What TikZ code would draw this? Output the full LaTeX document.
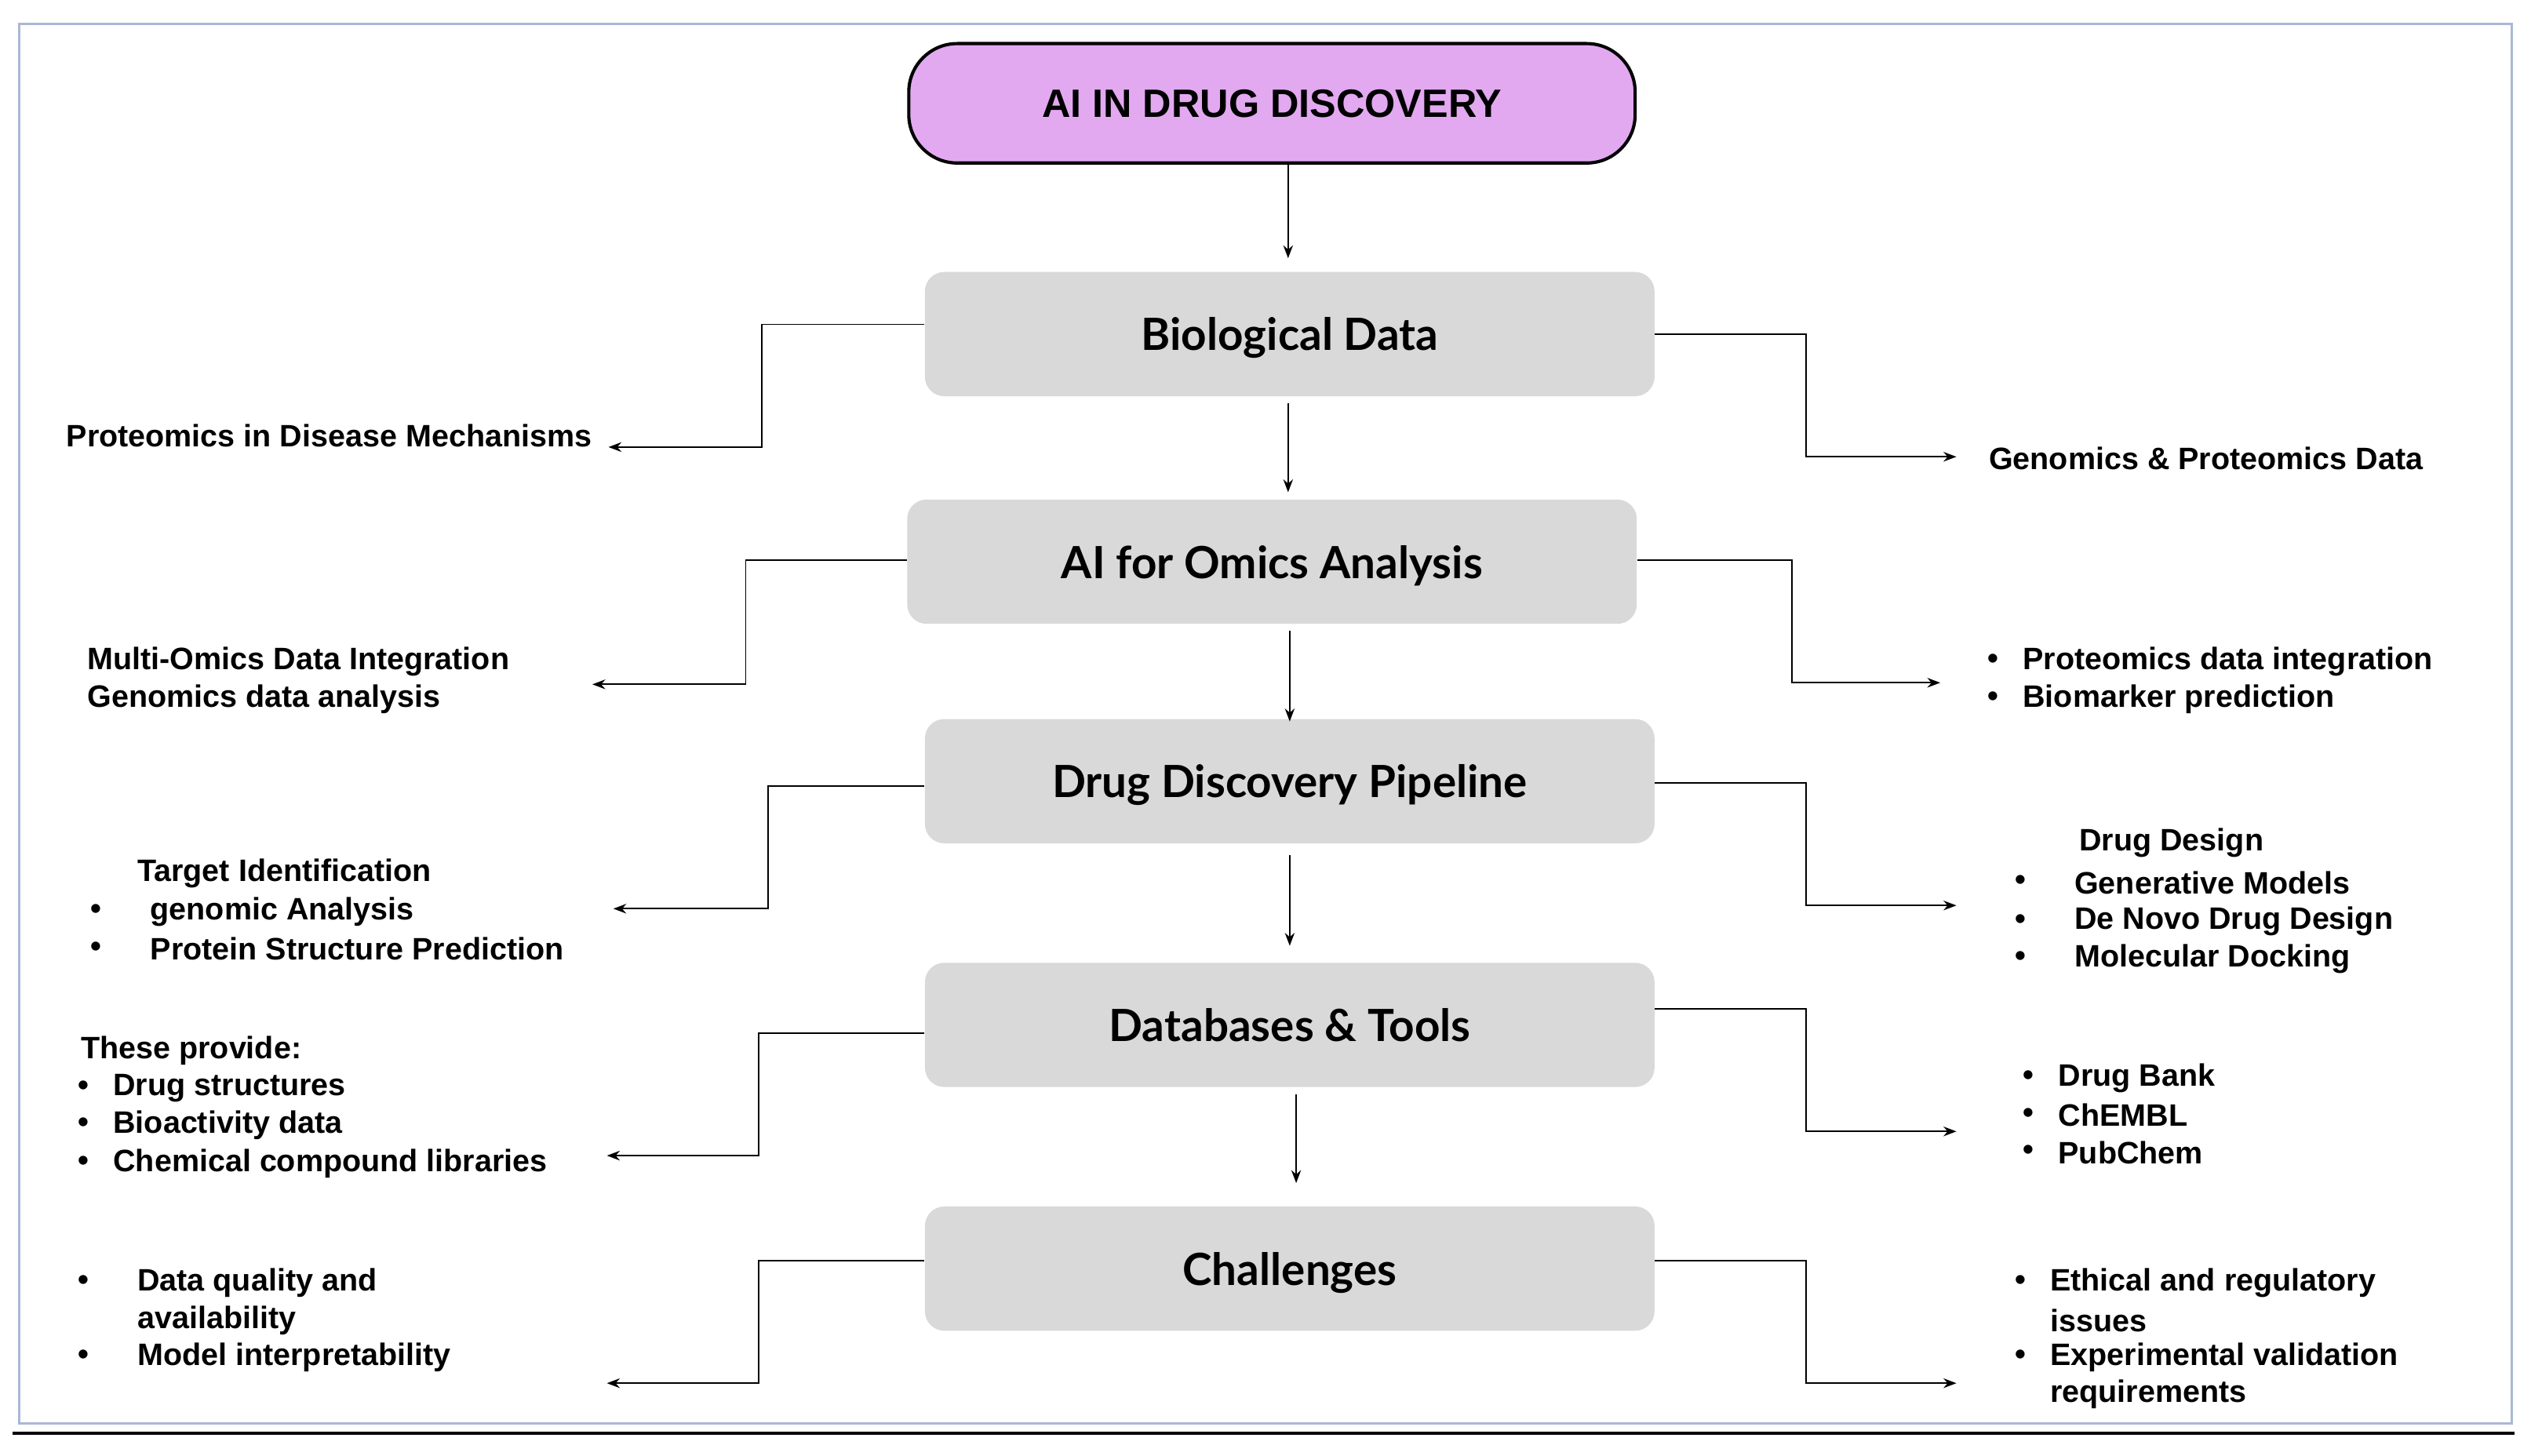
\documentclass[tikz,border=0pt]{standalone}
\usepackage{fontspec}
\setmainfont{Liberation Sans}
\newfontfamily\titlefont{Lato}
\usetikzlibrary{arrows.meta}
\definecolor{boxgray}{HTML}{D9D9D9}
\definecolor{violetfill}{HTML}{E2A9F0}
\definecolor{framecol}{HTML}{A9B8D6}
\begin{document}
\begin{tikzpicture}[x=1pt,y=-1pt,
 box/.style={draw=none,fill=boxgray,rounded corners=12pt,minimum width=452pt,minimum height=77pt,text depth=-8pt,font=\titlefont\bfseries\fontsize{27.5}{30}\selectfont},
 side/.style={anchor=west,inner sep=0pt,font=\bfseries\fontsize{19.2}{22}\selectfont},
 conn/.style={line width=0.9pt,-{Stealth[length=8pt,width=6pt]}},
 dn/.style={line width=0.9pt,-{Stealth[length=8pt,width=6pt]}}]
\useasboundingbox (0,0) rectangle (1568,902);
\draw[framecol,line width=1.5pt] (12,15) rectangle (1556,882);
\draw[line width=1.5pt] (8,888) -- (1558,888);
\node[draw,line width=2pt,fill=violetfill,rounded corners=30pt,minimum width=450pt,minimum height=74pt,font=\bfseries\fontsize{24.5}{27}\selectfont] (title) at (788,64) {AI IN DRUG DISCOVERY};
\node[box] (bio) at (799,207) {Biological Data};
\node[box] (omics) at (788,348) {AI for Omics Analysis};
\node[box] (pipe) at (799,484) {Drug Discovery Pipeline};
\node[box] (db) at (799,635) {Databases \& Tools};
\node[box] (chal) at (799,786) {Challenges};
% vertical
\coordinate (v1) at (798,160); \draw[dn] (798,101) -- (v1);
\coordinate (v2) at (798,305); \draw[dn] (798,250) -- (v2);
\coordinate (v3) at (799,447); \draw[dn] (799,391) -- (v3);
\coordinate (v4) at (799,586); \draw[dn] (799,530) -- (v4);
\coordinate (v5) at (803,733); \draw[dn] (803,678) -- (v5);
% side texts
\node[side] (t1) at (41,270) {Proteomics in Disease Mechanisms};
\node[side] (t2) at (1232,284) {Genomics \& Proteomics Data};
\node[side] (t3) at (54,410) {Multi-Omics Data Integration};
\node[side] (t4) at (54,433) {Genomics data analysis};
\node[side] (b1) at (1231,410) {•}; \node[side] (t5) at (1253,410) {Proteomics data integration};
\node[side] (b2) at (1231,433) {•}; \node[side] (t6) at (1253,433) {Biomarker prediction};
\node[side] (t7) at (85,541) {Target Identification};
\node[side] (b3) at (56,565) {•}; \node[side] (t8) at (93,565) {genomic Analysis};
\node[side] (b4) at (56,588) {•}; \node[side] (t9) at (93,588) {Protein Structure Prediction};
\node[side] (t10) at (1288,522) {Drug Design};
\node[side] (b5) at (1248,547) {•}; \node[side] (t11) at (1285,547) {Generative Models};
\node[side] (b6) at (1248,571) {•}; \node[side] (t12) at (1285,571) {De Novo Drug Design};
\node[side] (b7) at (1248,594) {•}; \node[side] (t13) at (1285,594) {Molecular Docking};
\node[side] (t14) at (50,651) {These provide:};
\node[side] (b8) at (48,674) {•}; \node[side] (t15) at (70,674) {Drug structures};
\node[side] (b9) at (48,697) {•}; \node[side] (t16) at (70,697) {Bioactivity data};
\node[side] (b10) at (48,721) {•}; \node[side] (t17) at (70,721) {Chemical compound libraries};
\node[side] (b11) at (1253,668) {•}; \node[side] (t18) at (1275,668) {Drug Bank};
\node[side] (b12) at (1253,691) {•}; \node[side] (t19) at (1275,691) {ChEMBL};
\node[side] (b13) at (1253,714) {•}; \node[side] (t20) at (1275,714) {PubChem};
\node[side] (b14) at (48,795) {•}; \node[side] (t21) at (85,795) {Data quality and};
\node[side] (t22) at (85,818) {availability};
\node[side] (b15) at (48,841) {•}; \node[side] (t23) at (85,841) {Model interpretability};
\node[side] (b16) at (1248,795) {•}; \node[side] (t24) at (1270,795) {Ethical and regulatory};
\node[side] (t25) at (1270,818) {issues};
\node[side] (b17) at (1248,841) {•}; \node[side] (t26) at (1270,841) {Experimental validation};
\node[side] (t27) at (1270,864) {requirements};
% side connectors
\coordinate (l1) at (377,277); \draw[conn] (bio.west |- 0,201) -- (472,201) -- (472,277) -- (l1);
\coordinate (r1) at (1212,283); \draw[conn] (bio.east |- 0,207) -- (1119,207) -- (1119,283) -- (r1);
\coordinate (l2) at (367,424); \draw[conn] (omics.west |- 0,347) -- (462,347) -- (462,424) -- (l2);
\coordinate (r2) at (1202,423); \draw[conn] (omics.east |- 0,347) -- (1110,347) -- (1110,423) -- (r2);
\coordinate (l3) at (380,563); \draw[conn] (pipe.west |- 0,487) -- (476,487) -- (476,563) -- (l3);
\coordinate (r3) at (1212,561); \draw[conn] (pipe.east |- 0,485) -- (1119,485) -- (1119,561) -- (r3);
\coordinate (l4) at (376,716); \draw[conn] (db.west |- 0,640) -- (470,640) -- (470,716) -- (l4);
\coordinate (r4) at (1212,701); \draw[conn] (db.east |- 0,625) -- (1119,625) -- (1119,701) -- (r4);
\coordinate (l5) at (376,857); \draw[conn] (chal.west |- 0,781) -- (470,781) -- (470,857) -- (l5);
\coordinate (r5) at (1212,857); \draw[conn] (chal.east |- 0,781) -- (1119,781) -- (1119,857) -- (r5);
\end{tikzpicture}
\end{document}
